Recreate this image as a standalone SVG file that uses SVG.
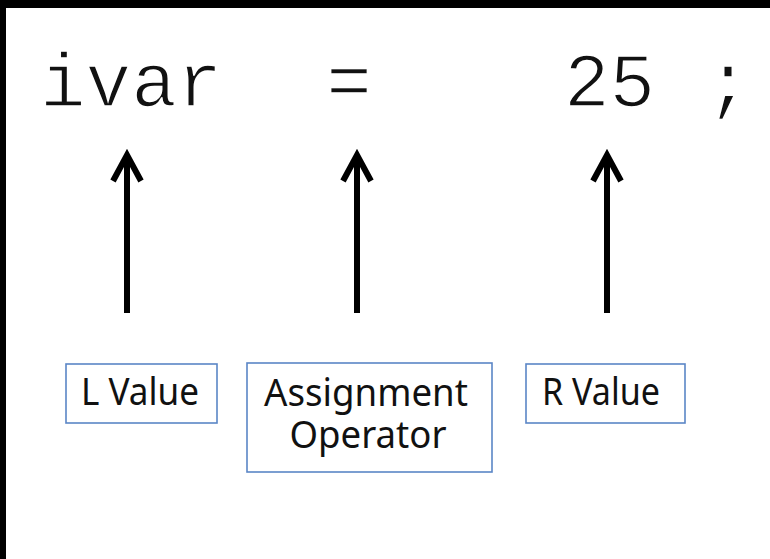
<svg xmlns="http://www.w3.org/2000/svg" width="770" height="559" viewBox="0 0 770 559">
<style>
.code{font-family:"Liberation Mono","Courier New",monospace;font-size:76px;fill:#111;stroke:#fff;stroke-width:1.6}
.lbl{font-family:"Noto Sans","Open Sans",sans-serif;font-size:39px;fill:#111;text-anchor:middle}
.box{fill:#fff;stroke:#5b86c6;stroke-width:1.6}
.arr{fill:none;stroke:#000;stroke-width:6;stroke-linejoin:miter}
</style>
<rect x="0" y="0" width="770" height="559" fill="#000"/>
<rect x="6" y="8" width="764" height="551" fill="#fff"/>
<g id="code">
<text class="code" x="40" y="106">ivar</text>
<text class="code" x="349" y="106" text-anchor="middle">=</text>
<text class="code" x="564" y="106">25</text>
<text class="code" x="728" y="106" text-anchor="middle">;</text>
</g>
<g id="connectors">
<path class="arr" d="M127,313 V158 M113,181 L127,155 L141,181"/>
<path class="arr" d="M357,313 V158 M343,181 L357,155 L371,181"/>
<path class="arr" d="M607,313 V158 M593,181 L607,155 L621,181"/>
</g>
<g id="lvalue">
<rect class="box" x="66" y="364" width="151" height="59"/>
<text class="lbl" x="140" y="405" textLength="118" lengthAdjust="spacingAndGlyphs">L Value</text>
</g>
<g id="assign">
<rect class="box" x="247" y="363" width="245" height="109"/>
<text class="lbl" x="366" y="406" textLength="204" lengthAdjust="spacingAndGlyphs">Assignment</text>
<text class="lbl" x="368" y="448" textLength="157" lengthAdjust="spacingAndGlyphs">Operator</text>
</g>
<g id="rvalue">
<rect class="box" x="526" y="364" width="159" height="59"/>
<text class="lbl" x="601" y="405" textLength="118" lengthAdjust="spacingAndGlyphs">R Value</text>
</g>
</svg>
